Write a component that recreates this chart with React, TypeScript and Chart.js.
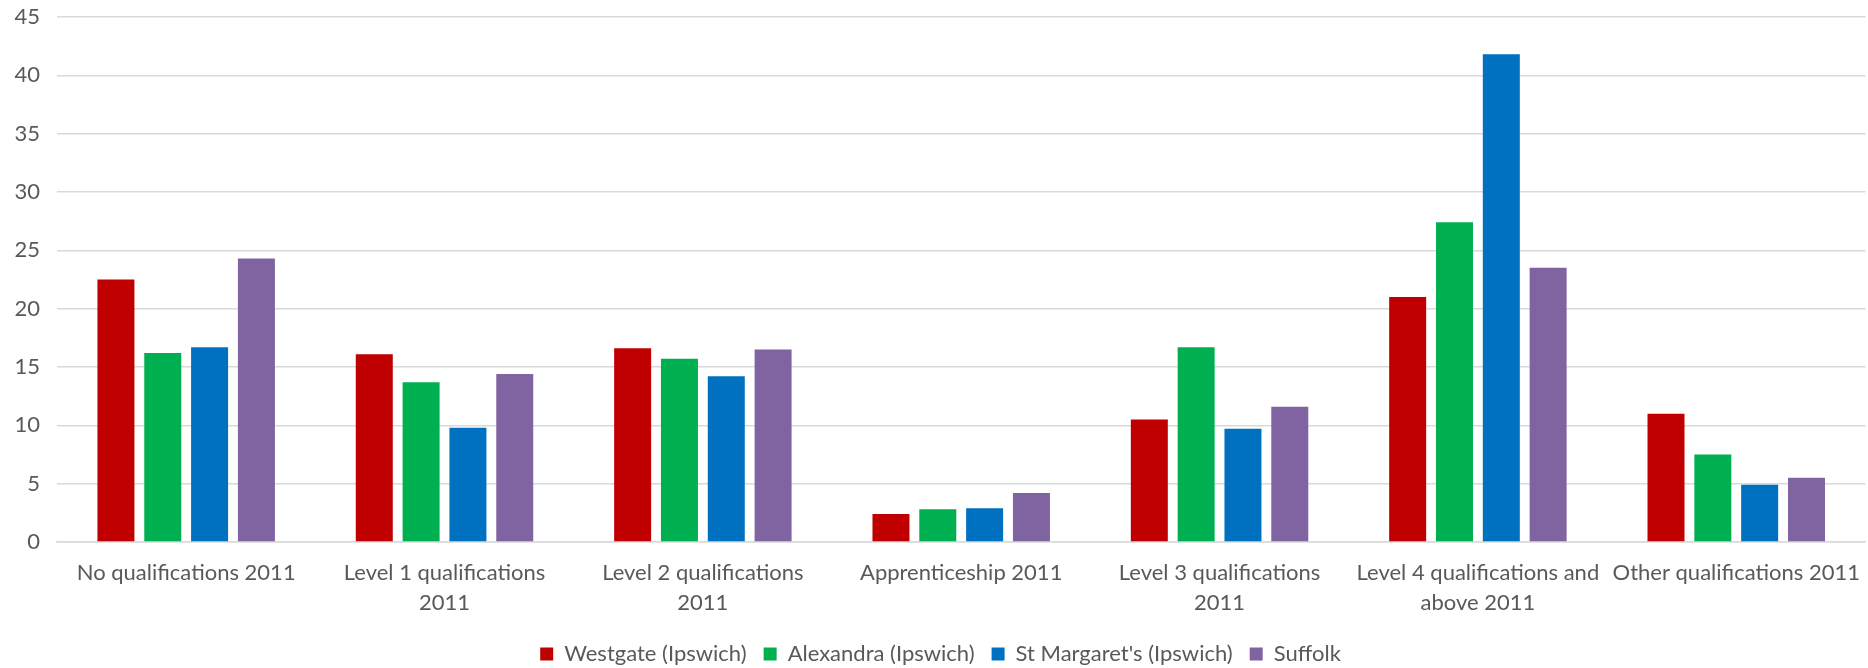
import React, { useEffect, useRef } from "react";
import { Chart, registerables } from "chart.js";

Chart.register(...registerables);

const categories: (string | string[])[] = [
  "No qualifications 2011",
  ["Level 1 qualifications", "2011"],
  ["Level 2 qualifications", "2011"],
  "Apprenticeship 2011",
  ["Level 3 qualifications", "2011"],
  ["Level 4 qualifications and", "above 2011"],
  "Other qualifications 2011",
];

const westgate = [22.5, 16.1, 16.6, 2.4, 10.5, 21.0, 11.0];
const alexandra = [16.2, 13.7, 15.7, 2.8, 16.7, 27.4, 7.5];
const stMargarets = [16.7, 9.8, 14.2, 2.9, 9.7, 41.8, 4.9];
const suffolk = [24.3, 14.4, 16.5, 4.2, 11.6, 23.5, 5.5];

const seriesNames = ["Westgate (Ipswich)", "Alexandra (Ipswich)", "St Margaret's (Ipswich)", "Suffolk"];
const seriesColors = ["#C00000", "#00B050", "#0070C0", "#8064A2"];

const FONT = "Lato, 'Open Sans', sans-serif";

export default function App() {
  const ref = useRef<HTMLCanvasElement | null>(null);

  useEffect(() => {
    document.body.style.margin = "0";
    if (!ref.current) return;
    const values = [westgate, alexandra, stMargarets, suffolk];
    const chart = new Chart(ref.current, {
      type: "bar",
      data: {
        labels: categories,
        datasets: values.map((d, i) => ({
          label: seriesNames[i],
          data: d,
          backgroundColor: seriesColors[i],
          borderWidth: 0,
          categoryPercentage: 0.725,
          barPercentage: 0.79,
        })),
      },
      options: {
        animation: false,
        responsive: false,
        maintainAspectRatio: false,
        layout: { padding: { left: 14, right: 1, top: 17, bottom: -7 } },
        plugins: {
          tooltip: { enabled: false },
          legend: {
            position: "bottom",
            labels: {
              boxWidth: 13,
              boxHeight: 13,
              padding: 17,
              color: "#595959",
              font: { family: FONT, size: 22 },
            },
          },
        },
        scales: {
          x: {
            grid: { display: false },
            border: { display: true, color: "#d9d9d9", width: 1.5 },
            ticks: {
              color: "#595959",
              font: { family: FONT, size: 22, lineHeight: 1.364 },
              maxRotation: 0,
              autoSkip: false,
              padding: 8,
            },
          },
          y: {
            min: 0,
            max: 45,
            afterFit: (scale: any) => {
              scale.width = 43;
              scale.paddingTop = 0;
            },
            grid: { color: "#d9d9d9", lineWidth: 1.5, drawTicks: false },
            border: { display: false },
            ticks: {
              stepSize: 5,
              color: "#595959",
              font: { family: FONT, size: 22 },
              padding: 17,
            },
          },
        },
      },
    });
    return () => chart.destroy();
  }, []);

  return (
    <div style={{ width: 1868, height: 668 }}>
      <canvas ref={ref} width={1868} height={668} style={{ width: 1868, height: 668 }} />
    </div>
  );
}
